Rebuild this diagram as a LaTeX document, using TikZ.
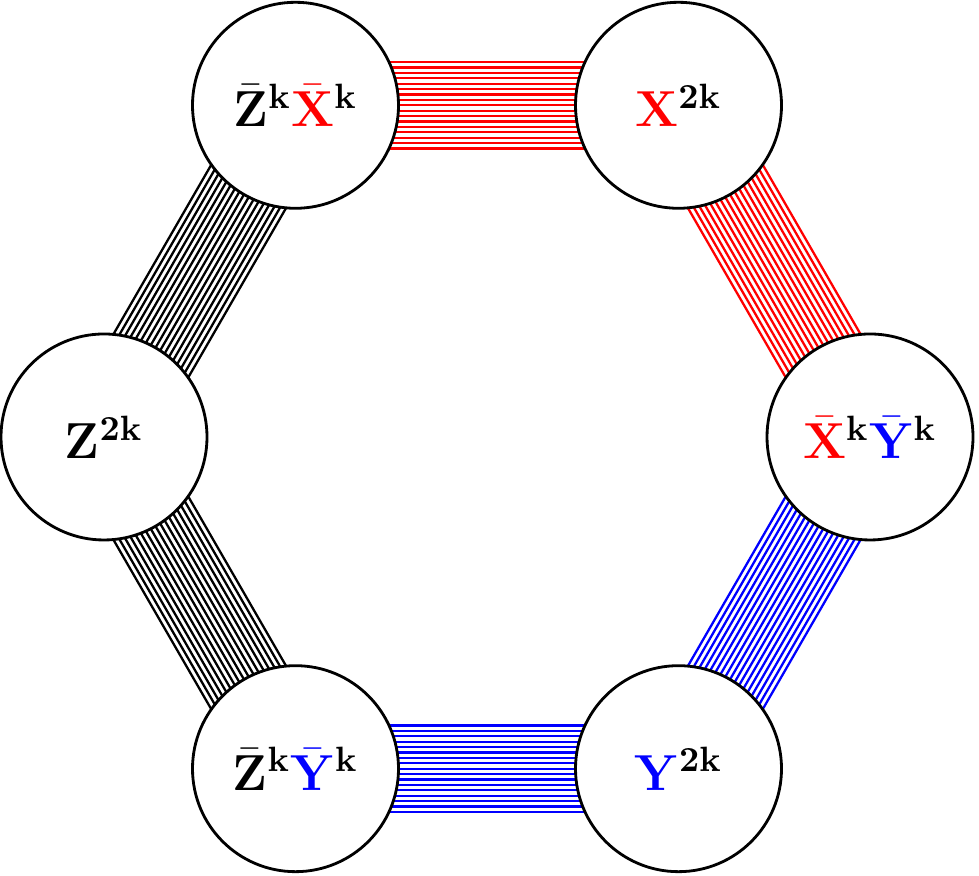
\documentclass[tikz,border=0pt]{standalone}
\usepackage{amsmath}
\usepackage{tikz}
\usetikzlibrary{calc, backgrounds}
\tikzset{
  vert/.style={circle, draw=black, fill=white, minimum size=2.06cm,
    inner sep=0pt, line width=0.8pt, font=\Large},
  strand/.style={line width=0.65pt}
}

\begin{document}
\begin{tikzpicture}
  \useasboundingbox (0,0) rectangle (9.79,8.76);
  % Centre of the hexagon
  \coordinate (o) at (4.87,4.39);

  % Vertices
  \node[vert] (zx) at ($(o)+(120:3.83)$) {$\bar{\mathbf{Z}}^{\mathbf{k}}\textcolor{red}{\bar{\mathbf{X}}}^{\mathbf{k}}$};
  \node[vert] (x2) at ($(o)+(60:3.83)$) {$\textcolor{red}{\mathbf{X}}^{\mathbf{2k}}$};
  \node[vert] (xy) at ($(o)+(0:3.83)$) {$\textcolor{red}{\bar{\mathbf{X}}}^{\mathbf{k}}\textcolor{blue}{\bar{\mathbf{Y}}}^{\mathbf{k}}$};
  \node[vert] (y2) at ($(o)+(-60:3.83)$) {$\textcolor{blue}{\mathbf{Y}}^{\mathbf{2k}}$};
  \node[vert] (zy) at ($(o)+(-120:3.83)$) {$\bar{\mathbf{Z}}^{\mathbf{k}}\textcolor{blue}{\bar{\mathbf{Y}}}^{\mathbf{k}}$};
  \node[vert] (z2) at ($(o)+(180:3.83)$) {$\mathbf{Z}^{\mathbf{2k}}$};

  % Bundles of parallel lines between neighbours
  \begin{scope}[on background layer]
    \foreach \a/\b/\c in {zx/x2/red, x2/xy/red, xy/y2/blue,
                          y2/zy/blue, zy/z2/black, z2/zx/black}
      \foreach \i in {-8,...,8}
        \draw[strand, \c] ($(\a)!\i*0.054cm!90:(\b)$) -- ($(\b)!\i*0.054cm!-90:(\a)$);
  \end{scope}
\end{tikzpicture}
\end{document}
